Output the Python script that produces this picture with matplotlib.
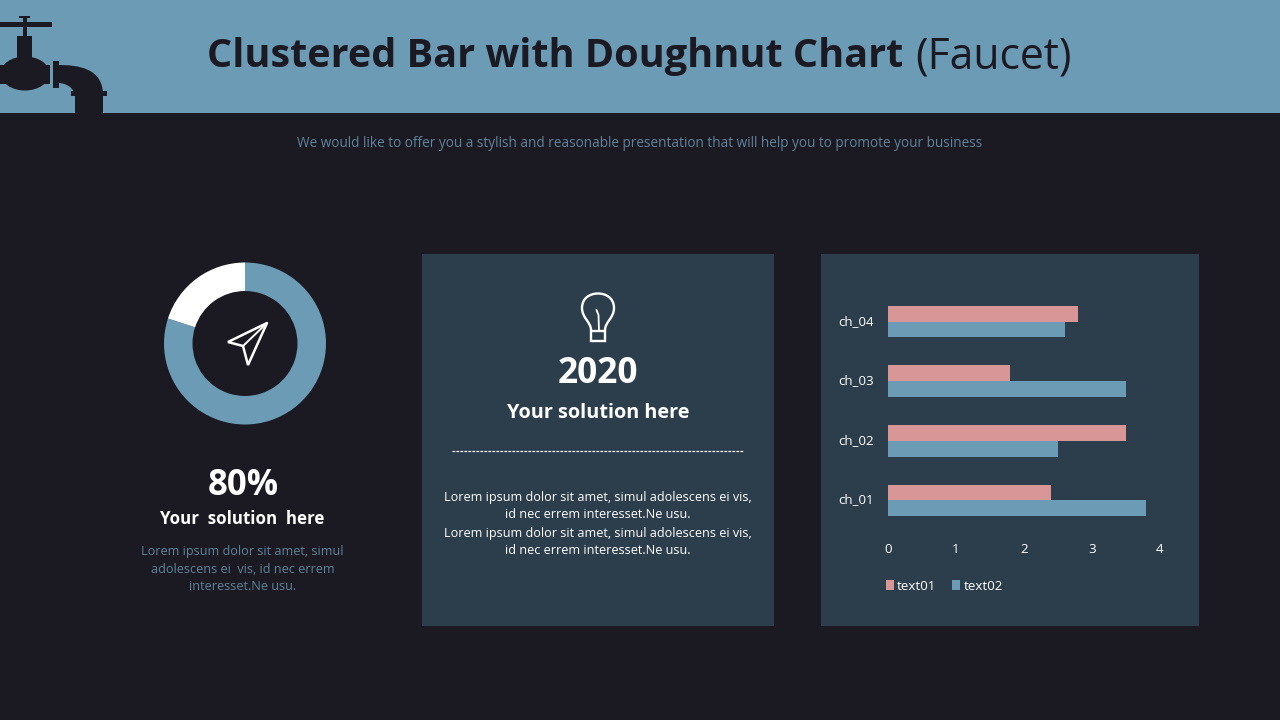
import matplotlib
matplotlib.use("Agg")
import matplotlib.pyplot as plt
from matplotlib.patches import Rectangle, Polygon, PathPatch, Ellipse
from matplotlib.path import Path
from matplotlib.transforms import ScaledTranslation

categories = ["ch_01", "ch_02", "ch_03", "ch_04"]
text01 = [2.4, 3.5, 1.8, 2.8]
text02 = [3.8, 2.5, 3.5, 2.6]
series_names = ["text01", "text02"]
x_ticks = [0, 1, 2, 3, 4]
donut_values = [80, 20]

BG = "#1b1a23"
BLUE = "#6b9bb5"
PANEL = "#2c3e4c"
PINK = "#d89696"
MUTED = "#5f8399"
W, H = 1280, 720
plt.rcParams["font.family"] = ["Open Sans", "Noto Sans", "DejaVu Sans"]

fig = plt.figure(figsize=(12.8, 7.2), dpi=100, facecolor=BG)
bg = fig.add_axes([0, 0, 1, 1])
bg.set_xlim(0, W); bg.set_ylim(H, 0); bg.axis("off")


def rect_axes(x0, y0, x1, y1):
    return fig.add_axes([x0 / W, 1 - y1 / H, (x1 - x0) / W, (y1 - y0) / H])


bg.add_patch(Rectangle((0, 0), W, 112.5, fc=BLUE, ec="none"))
bg.add_patch(Rectangle((422, 254), 352, 372, fc=PANEL, ec="none"))
bg.add_patch(Rectangle((821, 254), 378, 372, fc=PANEL, ec="none"))

# faucet silhouette
for r in [(0, 21.5, 52, 5.2), (19, 16, 11, 2), (22.5, 17, 4.5, 20), (17, 36, 15, 26),
          (0, 65, 49.5, 18.5), (53, 61, 6, 26.5), (70.5, 91, 36.5, 4.5)]:
    bg.add_patch(Rectangle((r[0], r[1]), r[2], r[3], fc=BG, ec="none"))
bg.add_patch(Ellipse((25, 73.5), 49, 34, fc=BG, ec="none"))
pipe = Path([(58, 65), (78, 65), (103, 68), (103, 95), (103, 113), (75, 113), (75, 96), (75, 90), (68, 83), (58, 83), (58, 65)],
            [Path.MOVETO, Path.CURVE4, Path.CURVE4, Path.CURVE4, Path.LINETO, Path.LINETO, Path.LINETO,
             Path.CURVE4, Path.CURVE4, Path.CURVE4, Path.CLOSEPOLY])
bg.add_patch(PathPatch(pipe, fc=BG, ec="none"))

# title
bg.text(207, 57, "Clustered Bar with Doughnut Chart", color=BG, fontsize=28.5,
        fontweight="bold", ha="left", va="center")
bg.text(1072, 57, "(Faucet)", color=BG, fontsize=30.7, ha="right", va="center")
bg.text(640, 143.5, "We would like to offer you a stylish and reasonable presentation that will help you to promote your business",
        color=MUTED, fontsize=9.85, ha="center", va="center")

# doughnut
pie_ax = rect_axes(164, 262.5, 326, 424.5)
pie_ax.pie(donut_values, colors=[BLUE, "white"], startangle=90, counterclock=False, radius=1,
           wedgeprops=dict(width=0.352, linewidth=0))
pie_ax.set_xlim(-1, 1); pie_ax.set_ylim(-1, 1)
bg.add_patch(Polygon([(267, 323), (228, 342), (243, 346), (248, 365)], closed=True, fc="none", ec="white", lw=1.8, joinstyle="miter"))
bg.plot([267, 243], [323, 346], color="white", lw=1.4)

bg.text(243, 486, "80%", color="white", fontsize=25, fontweight="bold", ha="center", va="center")
bg.text(242, 518.5, "Your  solution  here", color="white", fontsize=12.2, fontweight="bold", ha="center", va="center")
for y, s in [(552, "Lorem ipsum dolor sit amet, simul"), (569.5, "adolescens ei  vis, id nec errem"), (587, "interesset.Ne usu.")]:
    bg.text(242.5, y, s, color=MUTED, fontsize=9.05, ha="center", va="center")

# bulb icon
bulb = Path([(591, 330), (591, 322), (582, 318), (582, 308), (582, 298), (590, 293.5), (598, 293.5),
             (606, 293.5), (614, 298), (614, 308), (614, 318), (605, 322), (605, 330)],
            [Path.MOVETO] + [Path.CURVE4] * 12)
bg.add_patch(PathPatch(bulb, fc="none", ec="white", lw=1.7))
bg.add_patch(Rectangle((591, 331), 14, 10, fc="none", ec="white", lw=1.7))
bg.plot([599, 598.5, 596.5], [331, 315, 310], color="white", lw=1.3)

bg.text(598, 374, "2020", color="white", fontsize=25.5, fontweight="bold", ha="center", va="center")
bg.text(598, 413.5, "Your solution here", color="white", fontsize=14.3, fontweight="bold", ha="center", va="center")
bg.plot([452, 744], [451, 451], color="white", lw=0.9, dashes=(2.2, 1))
for y, s in [(497.5, "Lorem ipsum dolor sit amet, simul adolescens ei vis,"), (515, "id nec errem interesset.Ne usu."),
             (533, "Lorem ipsum dolor sit amet, simul adolescens ei vis,"), (550.5, "id nec errem interesset.Ne usu.")]:
    bg.text(598, y, s, color="white", fontsize=9.05, ha="center", va="center")

# clustered bars
ax = rect_axes(888, 291.8, 888 + 4 * 67.9, 530.3)
ax.patch.set_alpha(0)
pos = list(range(len(categories)))
bar_h = 0.265
ax.barh([p + bar_h / 2 for p in pos], text01, height=bar_h, color=PINK, label=series_names[0])
ax.barh([p - bar_h / 2 for p in pos], text02, height=bar_h, color=BLUE, label=series_names[1])
ax.set_xlim(0, 4); ax.set_ylim(-0.5, 3.5)
ax.set_yticks(pos, categories)
ax.set_xticks(x_ticks)
ax.tick_params(length=0, colors="white", labelsize=9.6)
ax.tick_params(axis="y", pad=10.5)
ax.tick_params(axis="x", pad=9)
shift = ScaledTranslation(0, 2 / 100, fig.dpi_scale_trans)
for lab in ax.get_yticklabels():
    lab.set_transform(lab.get_transform() + shift)
for s in ax.spines.values():
    s.set_visible(False)
handles, labels = ax.get_legend_handles_labels()
fig.legend(handles, labels, ncol=2, frameon=False, loc="center left",
           bbox_to_anchor=(875 / W, 1 - 586 / H), fontsize=9.6, labelcolor="white",
           handlelength=0.6, handleheight=0.7, handletextpad=0.25, columnspacing=1.2, borderpad=0.3)

fig.savefig("out.png", dpi=100, facecolor=BG)
